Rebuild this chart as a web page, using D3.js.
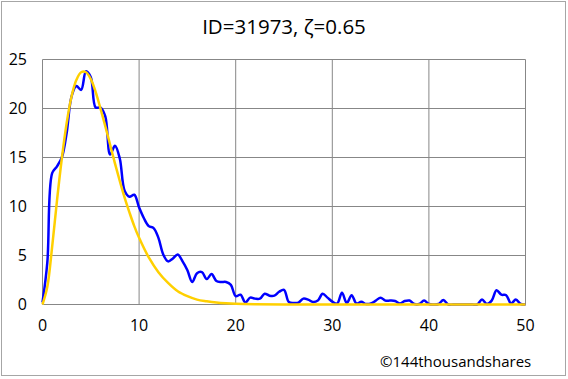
<!DOCTYPE html>
<html><head><meta charset="utf-8">
<script src="https://cdn.jsdelivr.net/npm/d3@7"></script>
<style>
html,body{margin:0;padding:0;background:#fff;}
svg{display:block;}
text{font-family:"Open Sans","Noto Sans",sans-serif;fill:#000;}
</style></head>
<body>
<script>
// ---- data ----
const title = "ID=31973, \u03B6=0.65";
const credit = "\u00A9144thousandshares";
const xTicks = [0, 10, 20, 30, 40, 50];
const yTicks = [0, 5, 10, 15, 20, 25];
// observed series, sampled every 0.5
const obsX = d3.range(0, 50.001, 0.5);
const obsY = [
  0.2, 4.3, 13.4, 14.1, 15.0, 17.5, 21.2, 22.3, 21.9, 23.8,
  23.2, 20.1, 20.1, 19.2, 15.3, 16.2, 14.9, 11.6, 11.0, 11.2,
  9.9, 8.8, 8.0, 7.8, 6.8, 5.1, 4.4, 4.7, 5.1, 4.4,
  3.5, 2.3, 3.2, 3.3, 2.6, 3.1, 2.4, 2.3, 2.3, 2.0,
  0.85, 1.0, 0.2, 0.7, 0.6, 0.6, 1.1, 0.9, 0.9, 1.3,
  1.5, 0.25, 0.15, 0.2, 0.6, 0.5, 0.25, 0.4, 1.1, 0.7,
  0.3, 0.1, 1.2, 0.15, 0.95, 0.1, 0.27, 0.05, 0.1, 0.4,
  0.7, 0.4, 0.4, 0.35, 0.1, 0.35, 0.4, 0.05, 0.05, 0.4,
  0.05, 0.0, 0.05, 0.45, 0.0, 0.0, 0.0, 0.0, 0.0, 0.0,
  0.0, 0.5, 0.05, 0.4, 1.45, 1.0, 0.95, 0.1, 0.5, 0.05,
  0.0
];
// fitted curve
const fitX = [0, 0.5, 1, 1.5, 2, 2.5, 3, 3.5, 4, 4.5, 5, 5.5, 6, 6.5, 7, 7.5, 8, 8.5, 9, 9.5, 10, 11, 12, 13, 14, 15, 16, 17, 18, 19, 20, 22, 25, 30, 40, 50];
const fitY = [0, 1.8, 5.9, 10.6, 14.9, 18.5, 21.2, 22.9, 23.7, 23.7, 23.0, 21.7, 20.0, 18.2, 16.3, 14.4, 12.6, 10.9, 9.4, 8.0, 6.8, 4.8, 3.3, 2.2, 1.35, 0.85, 0.5, 0.33, 0.2, 0.12, 0.07, 0.03, 0.01, 0, 0, 0];

// ---- layout ----
const W = 568, H = 379;
const svg = d3.select("body").append("svg").attr("width", W).attr("height", H);
svg.append("rect").attr("x", 1.5).attr("y", 1.5).attr("width", 564).attr("height", 374)
  .attr("fill", "#fff").attr("stroke", "#a6a6a6").attr("stroke-width", 1);

const x = d3.scaleLinear().domain([0, 50]).range([42.5, 525.5]);
const y = d3.scaleLinear().domain([0, 25]).range([304.5, 59.5]);

const grid = svg.append("g");
grid.selectAll("line.h").data(yTicks).join("line")
  .attr("x1", x(0)).attr("x2", x(50)).attr("y1", d => y(d)).attr("y2", d => y(d))
  .attr("stroke", "#878787").attr("stroke-width", 1);
grid.selectAll("line.v").data(xTicks).join("line")
  .attr("y1", y(0)).attr("y2", y(25)).attr("x1", d => x(d)).attr("x2", d => x(d))
  .attr("stroke", "#878787").attr("stroke-width", 1);

svg.append("g").selectAll("text").data(yTicks).join("text")
  .attr("x", 27).attr("y", d => y(d)).attr("dy", "0.36em")
  .attr("text-anchor", "end").attr("font-size", 16).text(d => d);
svg.append("g").selectAll("text").data(xTicks).join("text")
  .attr("x", d => x(d)).attr("y", 331)
  .attr("text-anchor", "middle").attr("font-size", 16).text(d => d);

const line = d3.line().x(d => x(d[0])).y(d => y(d[1])).curve(d3.curveCatmullRom.alpha(0.5));
svg.append("path").datum(obsX.map((v, i) => [v, obsY[i]]))
  .attr("d", line).attr("fill", "none").attr("stroke", "#0000ff").attr("stroke-width", 2.5)
  .attr("stroke-linejoin", "round");
svg.append("path").datum(fitX.map((v, i) => [v, fitY[i]]))
  .attr("d", line).attr("fill", "none").attr("stroke", "#ffd000").attr("stroke-width", 2.5)
  .attr("stroke-linejoin", "round");

svg.append("text").attr("x", 284).attr("y", 34).attr("text-anchor", "middle")
  .attr("font-size", 20.5).text(title);
svg.append("text").attr("x", 380).attr("y", 367).attr("font-size", 15)
  .text(credit);
</script>
</body></html>
